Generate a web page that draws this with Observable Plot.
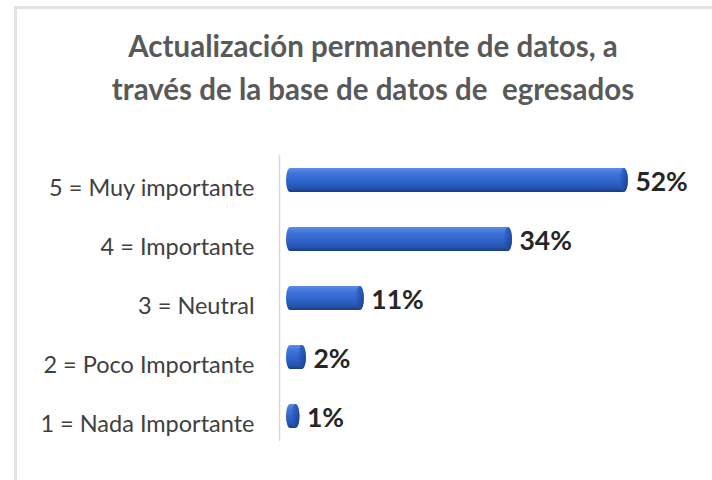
<!DOCTYPE html>
<html>
<head>
<meta charset="utf-8">
<script src="https://cdn.jsdelivr.net/npm/d3@7"></script>
<script src="https://cdn.jsdelivr.net/npm/@observablehq/plot@0.6"></script>
<style>
  html, body { margin: 0; padding: 0; background: #fff; width: 712px; height: 480px; overflow: hidden; }
  #wrap { position: relative; width: 712px; height: 480px; }
  #frame { position: absolute; left: 14px; top: 6px; width: 760px; height: 520px;
           border-left: 3px solid #e2e2e2; border-top: 3px solid #e2e2e2; box-sizing: border-box; }
  #title { position: relative; box-sizing: border-box; width: 712px; height: 140px; padding-top: 24px; padding-left: 34px;
           text-align: center; font-family: Lato, sans-serif; font-weight: bold; font-size: 29.5px; line-height: 43px;
           color: #595959; white-space: pre; }
  #chart { position: relative; }
  #chart svg { display: block; }
</style>
</head>
<body>
<div id="wrap">
  <div id="frame"></div>
  <div id="title">Actualización permanente de datos, a
través de la base de datos de  egresados</div>
  <div id="chart"></div>
</div>
<script>
const categories = ["5 = Muy importante", "4 = Importante", "3 = Neutral", "2 = Poco Importante", "1 = Nada Importante"];
const values = [52, 34, 11, 2, 1];
const valueLabels = ["52%", "34%", "11%", "2%", "1%"];

const data = categories.map((c, i) => ({category: c, value: values[i], label: valueLabels[i]}));

const svg = Plot.plot({
  width: 712,
  height: 340,
  marginTop: 15,
  marginBottom: 39,
  marginLeft: 286,
  marginRight: 39.6,
  x: {domain: [0, 60], axis: null},
  y: {domain: categories, paddingInner: 0.6, paddingOuter: 0.2},
  style: {fontFamily: "Lato, sans-serif", background: "transparent", overflow: "visible"},
  marks: [
    Plot.ruleX([0], {stroke: "#d9d9d9", strokeWidth: 1.5, dx: -7}),
    Plot.axisY({tickSize: 0, tickPadding: 32, fontSize: 23.5, color: "#404040", dy: 8, label: null}),
    Plot.barX(data, {x: "value", y: "category", fill: "url(#barGrad)", rx: 4, ry: 12, insetRight: -7}),
    Plot.barX(data, {x1: "value", x2: "value", y: "category", fill: "url(#capGrad)", rx: 4, ry: 12, insetLeft: -1, insetRight: -7}),
    Plot.text(data, {x: "value", y: "category", text: "label", textAnchor: "start", dx: 14, dy: 2.5, fontSize: 26.5, fontWeight: "bold", fill: "#262626"})
  ]
});

const defs = d3.select(svg).insert("defs", ":first-child");
const g1 = defs.append("linearGradient").attr("id", "barGrad").attr("x1", 0).attr("y1", 0).attr("x2", 0).attr("y2", 1);
[["0%", "#5d8ee6"], ["25%", "#3d73d9"], ["60%", "#2e62c8"], ["85%", "#2452ad"], ["100%", "#1a3c82"]]
  .forEach(([o, c]) => g1.append("stop").attr("offset", o).attr("stop-color", c));
const g2 = defs.append("linearGradient").attr("id", "capGrad").attr("x1", 0).attr("y1", 0).attr("x2", 1).attr("y2", 1);
[["0%", "#3a6fd6"], ["60%", "#2350ab"], ["100%", "#1b3d85"]]
  .forEach(([o, c]) => g2.append("stop").attr("offset", o).attr("stop-color", c));

document.getElementById("chart").appendChild(svg);
</script>
</body>
</html>
